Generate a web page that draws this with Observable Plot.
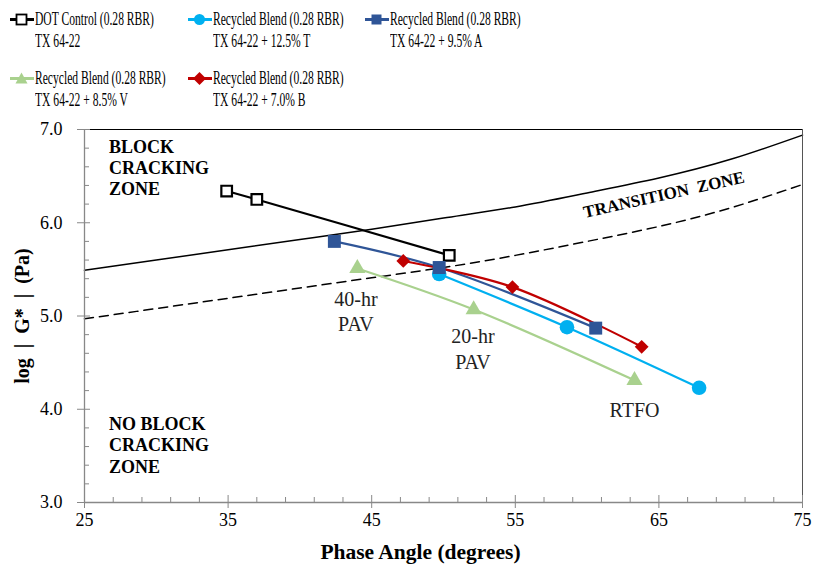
<!DOCTYPE html>
<html><head><meta charset="utf-8">
<script src="https://cdn.jsdelivr.net/npm/d3@7"></script>
<script src="https://cdn.jsdelivr.net/npm/@observablehq/plot@0.6"></script>
<style>
body{margin:0;background:#fff;}
#legend{position:relative;width:822px;height:110px;font-family:"Liberation Serif","DejaVu Serif";}
.sw{position:absolute;}
.lbl{position:absolute;white-space:nowrap;font-size:19px;line-height:22px;transform:scaleX(0.61);transform-origin:0 0;color:#000;}
#chart svg{display:block;}
</style></head><body>
<div id="legend"></div>
<div id="chart"></div>
<script>
// ---- data ----
const seriesNames = ["DOT Control (0.28 RBR)","Recycled Blend (0.28 RBR)","Recycled Blend (0.28 RBR)","Recycled Blend (0.28 RBR)","Recycled Blend (0.28 RBR)"];
const seriesSubs = ["TX 64-22","TX 64-22 + 12.5% T","TX 64-22 + 9.5% A","TX 64-22 + 8.5% V","TX 64-22 + 7.0% B"];
const seriesColors = ["#000000","#00B0F0","#2F5597","#A9D18E","#C00000"];
const seriesSymbols = ["square","circle","square","triangle","diamond2"];

const dotPhase = [34.9, 37.0, 50.4];
const dotLogG  = [6.34, 6.25, 5.65];
const tPhase = [49.7, 58.6, 67.8];
const tLogG  = [5.45, 4.88, 4.23];
const aPhase = [42.4, 49.7, 60.6];
const aLogG  = [5.80, 5.52, 4.87];
const vPhase = [44.0, 52.1, 63.3];
const vLogG  = [5.51, 5.07, 4.31];
const bPhase = [47.2, 54.8, 63.8];
const bLogG  = [5.59, 5.31, 4.67];

// boundary curves
const boundaryPhase = [25, 30, 35, 40, 45, 50, 55, 60, 65, 70, 75];
const severeLogG = [5.49, 5.60, 5.71, 5.82, 5.93, 6.05, 6.17, 6.32, 6.48, 6.68, 6.94];
const onsetLogG  = [4.97, 5.08, 5.19, 5.30, 5.41, 5.52, 5.65, 5.80, 5.96, 6.16, 6.41];

const xMajor = [25, 35, 45, 55, 65, 75];
const xMinor = [27,29,31,33,37,39,41,43,47,49,51,53,57,59,61,63,67,69,71,73];
const yMajor = [3, 4, 5, 6, 7];
const yMinor = [3.2,3.4,3.6,3.8,4.2,4.4,4.6,4.8,5.2,5.4,5.6,5.8,6.2,6.4,6.6,6.8];

const zoneLabels = ["BLOCK\nCRACKING\nZONE", "NO BLOCK\nCRACKING\nZONE"];
const zoneX = [26.7, 26.7];
const zoneY = [6.595, 3.62];
const agingLabels = ["40-hr\nPAV", "20-hr\nPAV", "RTFO"];
const agingX = [43.9, 52.05, 63.3];
const agingY = [5.06, 4.66, 4.01];
const transLabel = ["TRANSITION  ZONE"];
const transX = [65.35];
const transY = [6.30];
const xTitle = "Phase Angle (degrees)";
const yTitle = "log\u2002|\u2002G*\u2002|\u2002(Pa)";

// ---- build tables ----
const phases = [dotPhase, tPhase, aPhase, vPhase, bPhase];
const logs = [dotLogG, tLogG, aLogG, vLogG, bLogG];
const pts = [];
phases.forEach((ph, s) => ph.forEach((p, i) => pts.push({s, phase: p, logG: logs[s][i]})));
const boundary = boundaryPhase.map((p, i) => ({phase: p, severe: severeLogG[i], onset: onsetLogG[i]}));

// ---- legend ----
const legend = document.getElementById("legend");
const legendPos = [[10, 8], [188, 8], [365, 8], [10, 67], [188, 67]];
const symPaths = {
  square: (f, c) => `<rect x="6.5" y="4.5" width="10" height="10" fill="${f}" stroke="${c}" stroke-width="${f === '#fff' ? 1.8 : 0}"/>`,
  circle: (f, c) => `<circle cx="11.5" cy="9.5" r="5.5" fill="${c}"/>`,
  triangle: (f, c) => `<path d="M11.5,3.5 L17.5,14.5 L5.5,14.5 Z" fill="${c}"/>`,
  diamond2: (f, c) => `<path d="M11.5,3 L18,9.5 L11.5,16 L5,9.5 Z" fill="${c}"/>`
};
seriesNames.forEach((n, i) => {
  const [lx, ly] = legendPos[i];
  const c = seriesColors[i];
  const fill = i === 0 ? "#fff" : c;
  const sw = document.createElement("div");
  sw.className = "sw";
  sw.style.left = lx + "px"; sw.style.top = (ly + 2) + "px";
  sw.innerHTML = `<svg width="24" height="19"><line x1="0" y1="9.5" x2="24" y2="9.5" stroke="${c}" stroke-width="3"/>${symPaths[seriesSymbols[i]](fill, c)}</svg>`;
  legend.appendChild(sw);
  const t = document.createElement("div");
  t.className = "lbl";
  t.style.left = (lx + 25) + "px"; t.style.top = ly + "px";
  t.innerHTML = n + "<br>" + seriesSubs[i];
  legend.appendChild(t);
});

// ---- chart ----
const serif = '"Liberation Serif","DejaVu Serif"';
const symR = [6, 7.3, 7.3, 6, 6.2];
const marks = [
  Plot.line(boundary, {x: "phase", y: "severe", curve: "natural", stroke: "#000", strokeWidth: 1.5}),
  Plot.line(boundary, {x: "phase", y: "onset", curve: "natural", stroke: "#000", strokeWidth: 1.5, strokeDasharray: "9,6"}),
  Plot.ruleY([7], {stroke: "#000", strokeWidth: 1}),
  Plot.ruleX([75], {stroke: "#555", strokeWidth: 1}),
  Plot.ruleX([25], {stroke: "#888", strokeWidth: 1.3}),
  Plot.ruleY([3], {stroke: "#888", strokeWidth: 1.3}),
  Plot.axisX({ticks: xMajor, tickSize: 6, tickPadding: 5, tickFormat: d => String(d), label: null, fontSize: 18, stroke: "#888"}),
  Plot.axisX({ticks: xMajor, tickSize: -7, tickFormat: () => "", label: null, stroke: "#888"}),
  Plot.axisX({ticks: xMinor, tickSize: -5, tickFormat: () => "", label: null, stroke: "#888"}),
  Plot.axisY({ticks: yMajor, tickSize: 7, tickPadding: 15, tickFormat: d3.format(".1f"), label: null, fontSize: 18, stroke: "#888"}),
  Plot.axisY({ticks: yMajor, tickSize: -6, tickFormat: () => "", label: null, stroke: "#888"}),
  Plot.axisY({ticks: yMinor, tickSize: -5, tickFormat: () => "", label: null, stroke: "#888"}),
  Plot.text([xTitle], {frameAnchor: "bottom", lineAnchor: "middle", textAnchor: "middle", dy: 50, dx: -23, fontWeight: "bold", fontSize: 21.5}),
  Plot.text([yTitle], {frameAnchor: "left", textAnchor: "middle", lineAnchor: "middle", dx: -62, rotate: -90, fontWeight: "bold", fontSize: 20}),
  Plot.text(zoneLabels, {x: (d, i) => zoneX[i], y: (d, i) => zoneY[i], text: d => d, textAnchor: "start", fontWeight: "bold", fontSize: 18, lineHeight: 1.18}),
  Plot.text(agingLabels, {x: (d, i) => agingX[i], y: (d, i) => agingY[i], text: d => d, fontSize: 20, lineHeight: 1.28, fill: "#222"}),
  Plot.text(transLabel, {x: (d, i) => transX[i], y: (d, i) => transY[i], text: d => d, fontWeight: "bold", fontSize: 17, rotate: -12.5})
];
seriesNames.forEach((n, s) => {
  const data = pts.filter(d => d.s === s);
  marks.push(Plot.line(data, {x: "phase", y: "logG", curve: "catmull-rom", stroke: seriesColors[s], strokeWidth: 2.2}));
});
seriesNames.forEach((n, s) => {
  const data = pts.filter(d => d.s === s);
  marks.push(Plot.dot(data, {x: "phase", y: "logG", symbol: seriesSymbols[s], r: symR[s],
    fill: s === 0 ? "#fff" : seriesColors[s], stroke: seriesColors[s], strokeWidth: s === 0 ? 2.2 : 0}));
});

const chart = Plot.plot({
  width: 822, height: 459,
  marginLeft: 84, marginRight: 20, marginTop: 19, marginBottom: 67,
  x: {domain: [25, 75]},
  y: {domain: [3, 7]},
  style: {fontFamily: serif, fontSize: "18px", color: "#000", background: "#fff", overflow: "visible"},
  marks
});
document.getElementById("chart").appendChild(chart);
</script>
</body></html>
